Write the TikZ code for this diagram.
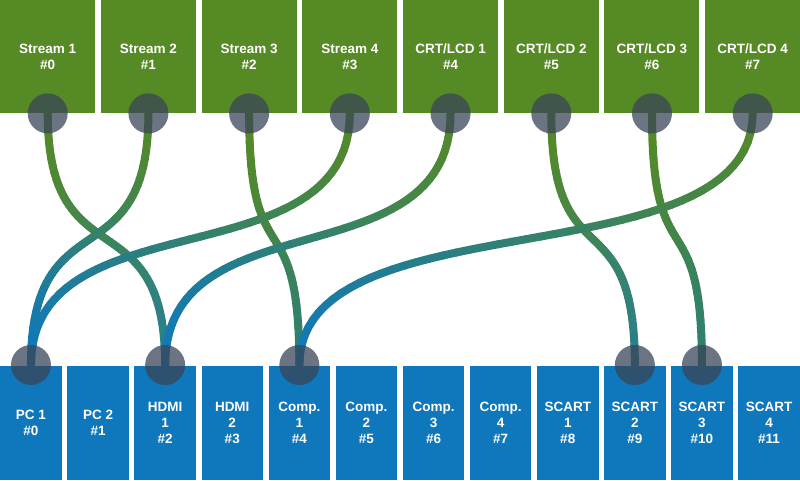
\documentclass[tikz,border=0pt]{standalone}
\usepackage{fontspec}
\setmainfont{Liberation Sans}
\definecolor{boxgreen}{HTML}{568A24}
\definecolor{boxblue}{HTML}{0F77BB}
\definecolor{lineblue}{HTML}{0F78BB}
\definecolor{teala}{HTML}{27808F}
\definecolor{tealb}{HTML}{2F8070}
\definecolor{tealc}{HTML}{2A8088}
\definecolor{teald}{HTML}{2E8070}
\definecolor{knobcol}{HTML}{3A4558}
\pgfdeclarelayer{boxes}
\pgfdeclarelayer{links}
\pgfsetlayers{boxes,links,main}
\tikzset{
  topbox/.style={fill=boxgreen, draw=none, minimum width=95pt, minimum height=113pt,
    inner sep=0pt, anchor=north west, text=white, align=center,
    font=\bfseries\fontsize{13.5}{16}\selectfont},
  botbox/.style={fill=boxblue, draw=none, minimum width=61.5pt, minimum height=114pt,
    inner sep=0pt, anchor=north west, text=white, align=center,
    font=\bfseries\fontsize{13.5}{16}\selectfont},
  knob/.style={circle, fill=knobcol, fill opacity=0.75, draw=none, minimum size=40pt, inner sep=0pt},
}
\newcommand\gradlink[3]{%
  \foreach \k in {0,...,47}{%
    \pgfmathsetmacro\ta{\k/48}%
    \pgfmathsetmacro\tb{(\k+1)/48}%
    \pgfmathtruncatemacro\pc{round(100*(\k+0.5)/48)}%
    \path (#1.center) .. controls +(0,170) and +(0,-170) .. (#2.center)
      coordinate[pos=\ta] (sa) coordinate[pos=\tb] (sb);
    \draw[line width=8pt, line cap=round, color=#3!\pc!boxgreen] (sa) -- (sb);
  }}
\begin{document}
\begin{tikzpicture}[x=1pt, y=-1pt]
\useasboundingbox (0,0) rectangle (800,480);
\begin{pgfonlayer}{boxes}
\foreach \i/\t in {0/{Stream 1},1/{Stream 2},2/{Stream 3},3/{Stream 4},
                   4/{CRT/LCD 1},5/{CRT/LCD 2},6/{CRT/LCD 3},7/{CRT/LCD 4}}{
  \node[topbox] (T\i) at ({\i*100.714},0) {\t\\\#\i};
}
\foreach \j/\t in {0/{PC 1},1/{PC 2},2/{HDMI\\1},3/{HDMI\\2},4/{Comp.\\1},5/{Comp.\\2},
                   6/{Comp.\\3},7/{Comp.\\4},8/{SCART\\1},9/{SCART\\2},10/{SCART\\3},11/{SCART\\4}}{
  \node[botbox] (B\j) at ({\j*67.1},366) {\t\\\#\j};
}
\end{pgfonlayer}
% connector knobs
\foreach \i in {0,...,7}{
  \node[knob] (KT\i) at (T\i.south) {};
}
\foreach \j in {0,2,4,9,10}{
  \node[knob] (KB\j) at ([yshift=1pt]B\j.north) {};
}
% links
\begin{pgfonlayer}{links}
\gradlink{KT0}{KB2}{teala}
\gradlink{KT2}{KB4}{tealb}
\gradlink{KT5}{KB9}{tealc}
\gradlink{KT6}{KB10}{teald}
\gradlink{KT1}{KB0}{lineblue}
\gradlink{KT3}{KB0}{lineblue}
\gradlink{KT4}{KB2}{lineblue}
\gradlink{KT7}{KB4}{lineblue}
\end{pgfonlayer}
\end{tikzpicture}
\end{document}
